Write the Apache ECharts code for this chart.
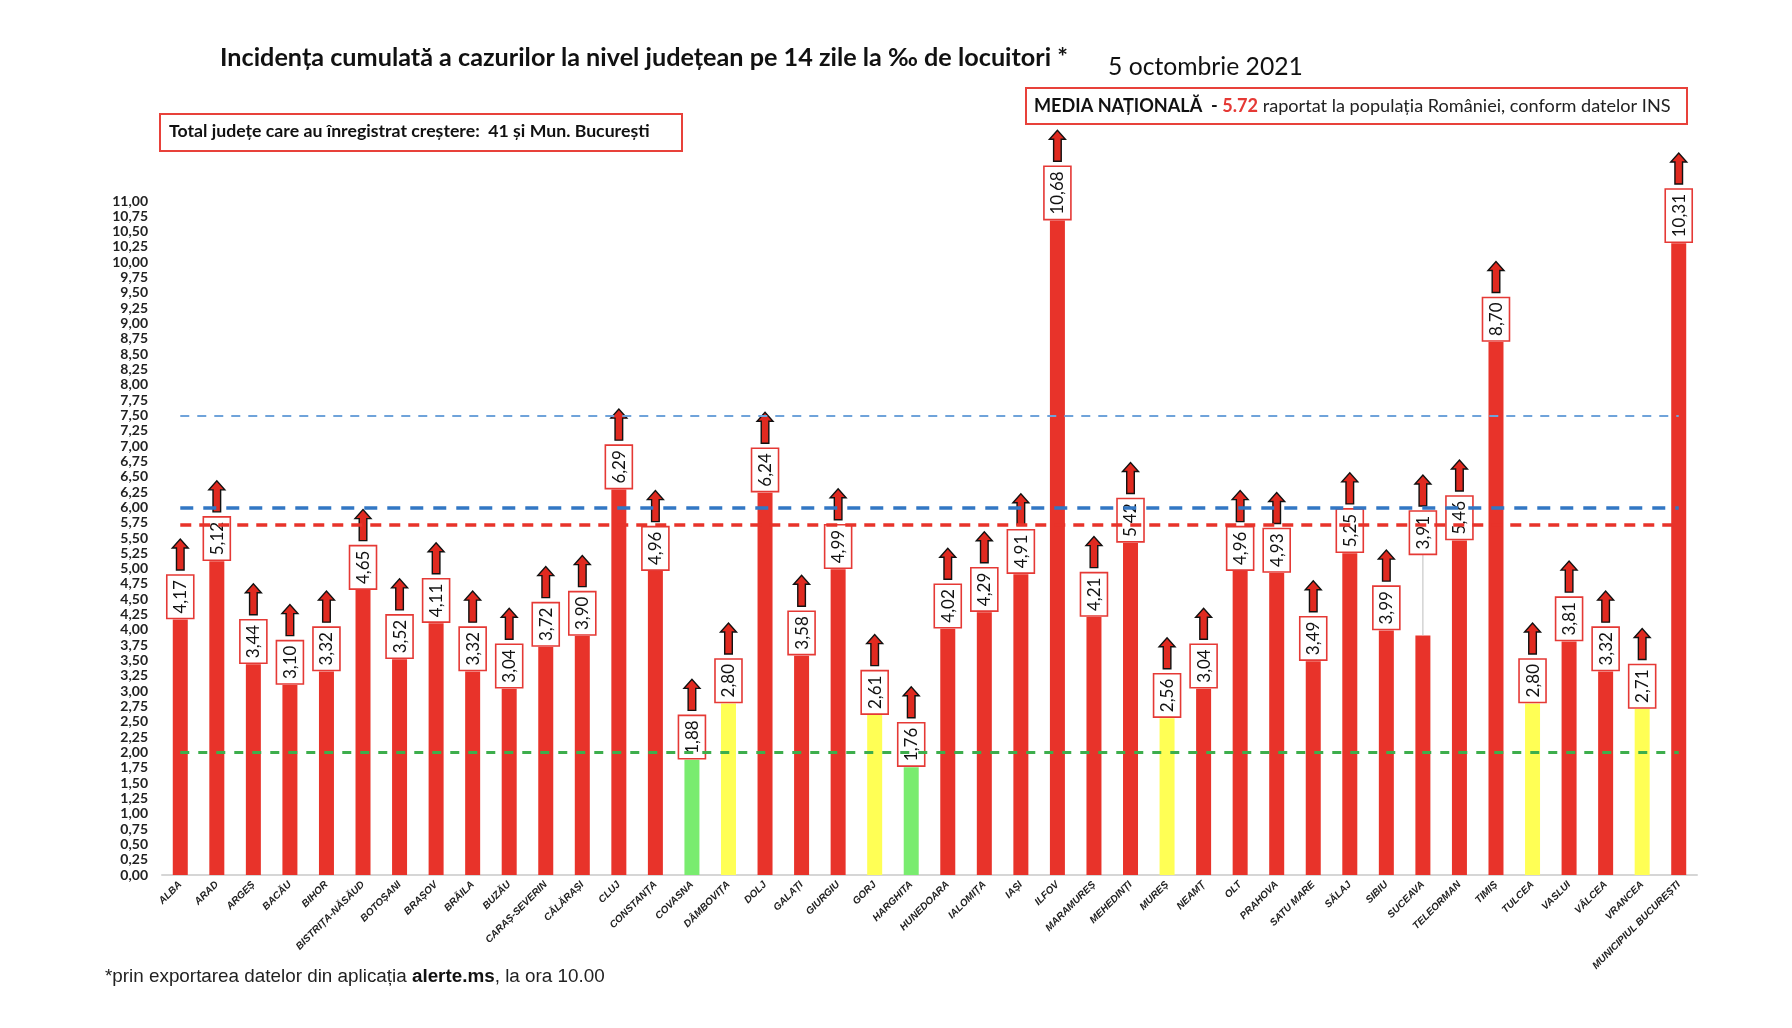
<!DOCTYPE html>
<html>
<head>
<meta charset="utf-8">
<script src="https://cdn.jsdelivr.net/npm/echarts@6/dist/echarts.min.js"></script>
<style>
  html, body { margin: 0; padding: 0; background: #ffffff; }
  #chart { width: 1792px; height: 1028px; }
</style>
</head>
<body>
<div id="chart"></div>
<script>
// ---------------- data ----------------
const CATEGORIES = [
  'ALBA', 'ARAD', 'ARGEȘ', 'BACĂU', 'BIHOR', 'BISTRIȚA-NĂSĂUD', 'BOTOȘANI', 'BRAȘOV',
  'BRĂILA', 'BUZĂU', 'CARAȘ-SEVERIN', 'CĂLĂRAȘI', 'CLUJ', 'CONSTANȚA', 'COVASNA',
  'DÂMBOVIȚA', 'DOLJ', 'GALAȚI', 'GIURGIU', 'GORJ', 'HARGHITA', 'HUNEDOARA', 'IALOMIȚA',
  'IAȘI', 'ILFOV', 'MARAMUREȘ', 'MEHEDINȚI', 'MUREȘ', 'NEAMȚ', 'OLT', 'PRAHOVA',
  'SATU MARE', 'SĂLAJ', 'SIBIU', 'SUCEAVA', 'TELEORMAN', 'TIMIȘ', 'TULCEA', 'VASLUI',
  'VÂLCEA', 'VRANCEA', 'MUNICIPIUL BUCUREȘTI'
];
const VALUES = [
  4.17, 5.12, 3.44, 3.10, 3.32, 4.65, 3.52, 4.11,
  3.32, 3.04, 3.72, 3.90, 6.29, 4.96, 1.88,
  2.80, 6.24, 3.58, 4.99, 2.61, 1.76, 4.02, 4.29,
  4.91, 10.68, 4.21, 5.42, 2.56, 3.04, 4.96, 4.93,
  3.49, 5.25, 3.99, 3.91, 5.46, 8.70, 2.80, 3.81,
  3.32, 2.71, 10.31
];
const Y_MIN = 0;
const Y_MAX = 11;
const Y_STEP = 0.25;
const REF_LINES = [7.5, 6.0, 5.72, 2.0];
const NATIONAL_AVERAGE = '5.72';
const COUNTIES_UP = '41';

// ---------------- styles ----------------
const RED = '#E8332A';
const GREEN = '#79EC6F';
const YELLOW = '#FFFF55';
const REF_STYLES = {
  7.5:  { color: '#6FA3DA', width: 2,   type: [9, 8] },
  6.0:  { color: '#3277C4', width: 3.5, type: [13, 10] },
  5.72: { color: '#E8332A', width: 3.5, type: [11, 8] },
  2.0:  { color: '#3DAE4C', width: 3,   type: [9, 9] }
};
const LABEL_LIFT = { 'SUCEAVA': 80 };
const VAL_FONT = 17;
const VAL_FAMILY = 'Lato';

function barColor(v) {
  if (v < 2) return GREEN;
  if (v < 3) return YELLOW;
  return RED;
}
function fmtComma(v) { return v.toFixed(2).replace('.', ','); }

const measureCtx = document.createElement('canvas').getContext('2d');
function measure(text, font) {
  measureCtx.font = font;
  return measureCtx.measureText(text).width;
}
function fitSize(parts, target, family) {
  let w = 0;
  parts.forEach(p => { w += measure(p[0], (p[1] || 'normal') + ' 100px ' + family); });
  return 100 * target / w;
}

// ---------------- texts ----------------
const TITLE = 'Incidența cumulată a cazurilor la nivel județean pe 14 zile la ‰ de locuitori *';
const DATE_TEXT = '5 octombrie 2021';
const BOX1_TEXT = 'Total județe care au înregistrat creștere:  ' + COUNTIES_UP + ' și Mun. București';
const BOX2_A = 'MEDIA NAȚIONALĂ';
const BOX2_B = '  - ';
const BOX2_C = NATIONAL_AVERAGE;
const BOX2_D = ' raportat la populația României, conform datelor INS';
const FOOT_A = '*prin exportarea datelor din aplicația ';
const FOOT_B = 'alerte.ms';
const FOOT_C = ', la ora 10.00';

const titleSize = fitSize([[TITLE, 'bold']], 848, 'Lato');
const dateSize = fitSize([[DATE_TEXT, 'normal']], 195, 'Lato');
const box1Size = fitSize([[BOX1_TEXT, 'bold']], 481, 'Lato');
const box2Size = fitSize([[BOX2_A, 'bold'], [BOX2_B, 'bold'], [BOX2_C, 'bold'], [BOX2_D, 'normal']], 637, 'Lato');
const footSize = fitSize([[FOOT_A, 'normal'], [FOOT_B, 'bold'], [FOOT_C, 'normal']], 500, 'Liberation Sans');
const TXT_SHIFT = 3;

// ---------------- chart ----------------
const chart = echarts.init(document.getElementById('chart'), null, { renderer: 'canvas' });

function renderLabelAndArrow(params, api) {
  const i = api.value(0);
  const v = api.value(1);
  const pt = api.coord([i, v]);
  const cx = pt[0], yTop = pt[1];
  const txt = fmtComma(v);
  const tw = measure(txt, VAL_FONT + 'px ' + VAL_FAMILY);
  const boxLen = tw + 10;
  const boxW = 27;
  const lift = LABEL_LIFT[CATEGORIES[i]] || 0;
  const boxBottom = yTop - 1 - lift;
  const boxTop = boxBottom - boxLen;
  const aBase = boxTop - 5;
  const sh = 3.8, hh = 8, headH = 9, total = 31;
  const children = [];
  if (lift) {
    children.push({
      type: 'line',
      shape: { x1: cx, y1: yTop, x2: cx, y2: boxBottom },
      style: { stroke: '#bdbdbd', lineWidth: 1 }
    });
  }
  children.push({
    type: 'rect',
    shape: { x: cx - boxW / 2, y: boxTop, width: boxW, height: boxLen },
    style: { fill: '#ffffff', stroke: '#E53935', lineWidth: 1.6 }
  });
  children.push({
    type: 'text',
    x: cx + 0.5,
    y: boxTop + boxLen / 2,
    rotation: Math.PI / 2,
    style: {
      text: txt,
      fontSize: VAL_FONT,
      fontFamily: VAL_FAMILY,
      fill: '#111111',
      align: 'center',
      verticalAlign: 'middle'
    }
  });
  children.push({
    type: 'polygon',
    shape: {
      points: [
        [cx - sh, aBase], [cx - sh, aBase - total + headH], [cx - hh, aBase - total + headH],
        [cx, aBase - total], [cx + hh, aBase - total + headH], [cx + sh, aBase - total + headH],
        [cx + sh, aBase]
      ]
    },
    style: { fill: '#E02A20', stroke: '#111111', lineWidth: 1.4, lineJoin: 'miter' }
  });
  return { type: 'group', children: children };
}

const refMarkData = REF_LINES.map(v => {
  const s = REF_STYLES[v];
  return [
    { coord: [0, v], lineStyle: { color: s.color, width: s.width, type: s.type } },
    { coord: [CATEGORIES.length - 1, v] }
  ];
});

const option = {
  backgroundColor: '#ffffff',
  animation: false,
  grid: { left: 162, right: 95, top: 201, bottom: 153, containLabel: false },
  xAxis: {
    type: 'category',
    data: CATEGORIES,
    boundaryGap: true,
    axisLine: { show: true, lineStyle: { color: '#d6d6d6', width: 2 } },
    axisTick: { show: false },
    axisLabel: {
      interval: 0,
      rotate: 45,
      margin: 8,
      fontSize: 10,
      fontStyle: 'italic',
      fontWeight: 'bold',
      fontFamily: 'Liberation Sans',
      color: '#222222'
    },
    splitLine: { show: false }
  },
  yAxis: {
    type: 'value',
    min: Y_MIN,
    max: Y_MAX,
    interval: Y_STEP,
    axisLine: { show: false },
    axisTick: { show: false },
    splitLine: { show: false },
    axisLabel: {
      margin: 14,
      fontSize: 14,
      fontWeight: 'bold',
      fontFamily: 'Lato',
      color: '#222222',
      formatter: v => fmtComma(v)
    }
  },
  series: [
    {
      type: 'bar',
      data: VALUES.map(v => ({ value: v, itemStyle: { color: barColor(v) } })),
      barWidth: 15,
      z: 2,
      label: { show: false }
    },
    {
      type: 'custom',
      data: VALUES.map((v, i) => [i, v]),
      encode: { x: 0, y: 1 },
      renderItem: renderLabelAndArrow,
      clip: false,
      z: 3
    },
    {
      type: 'line',
      data: [],
      z: 5,
      markLine: {
        silent: true,
        symbol: ['none', 'none'],
        label: { show: false },
        z: 5,
        data: refMarkData
      }
    }
  ],
  graphic: [
    {
      type: 'text', left: 220, top: 57 - titleSize * 0.6 + TXT_SHIFT,
      style: { text: TITLE, fontSize: titleSize, fontWeight: 'bold', fontFamily: 'Lato', fill: '#111111' }
    },
    {
      type: 'text', left: 1108, top: 66 - dateSize * 0.6 + TXT_SHIFT,
      style: { text: DATE_TEXT, fontSize: dateSize, fontWeight: 'normal', fontFamily: 'Lato', fill: '#111111' }
    },
    {
      type: 'rect', left: 159, top: 113,
      shape: { width: 522, height: 37 },
      style: { fill: '#ffffff', stroke: '#E8413A', lineWidth: 2 }
    },
    {
      type: 'text', left: 169, top: 131.5 - box1Size * 0.6 + 1,
      style: { text: BOX1_TEXT, fontSize: box1Size, fontWeight: 'bold', fontFamily: 'Lato', fill: '#111111' }
    },
    {
      type: 'rect', left: 1025, top: 87,
      shape: { width: 661, height: 36 },
      style: { fill: '#ffffff', stroke: '#E8413A', lineWidth: 2 }
    },
    {
      type: 'text', left: 1034, top: 105 - box2Size * 0.6 + TXT_SHIFT,
      style: {
        text: '{a|' + BOX2_A + '}{a|' + BOX2_B + '}{r|' + BOX2_C + '}{n|' + BOX2_D + '}',
        rich: {
          a: { fontSize: box2Size, fontWeight: 'bold', fontFamily: 'Lato', fill: '#111111', color: '#111111' },
          r: { fontSize: box2Size, fontWeight: 'bold', fontFamily: 'Lato', fill: '#E53935', color: '#E53935' },
          n: { fontSize: box2Size, fontWeight: 'normal', fontFamily: 'Lato', fill: '#222222', color: '#222222' }
        }
      }
    },
    {
      type: 'text', left: 105, top: 977 - footSize * 0.6 + 2,
      style: {
        text: '{n|' + FOOT_A + '}{b|' + FOOT_B + '}{n|' + FOOT_C + '}',
        rich: {
          n: { fontSize: footSize, fontWeight: 'normal', fontFamily: 'Liberation Sans', fill: '#222222', color: '#222222' },
          b: { fontSize: footSize, fontWeight: 'bold', fontFamily: 'Liberation Sans', fill: '#111111', color: '#111111' }
        }
      }
    }
  ]
};
chart.setOption(option);
</script>
</body>
</html>
